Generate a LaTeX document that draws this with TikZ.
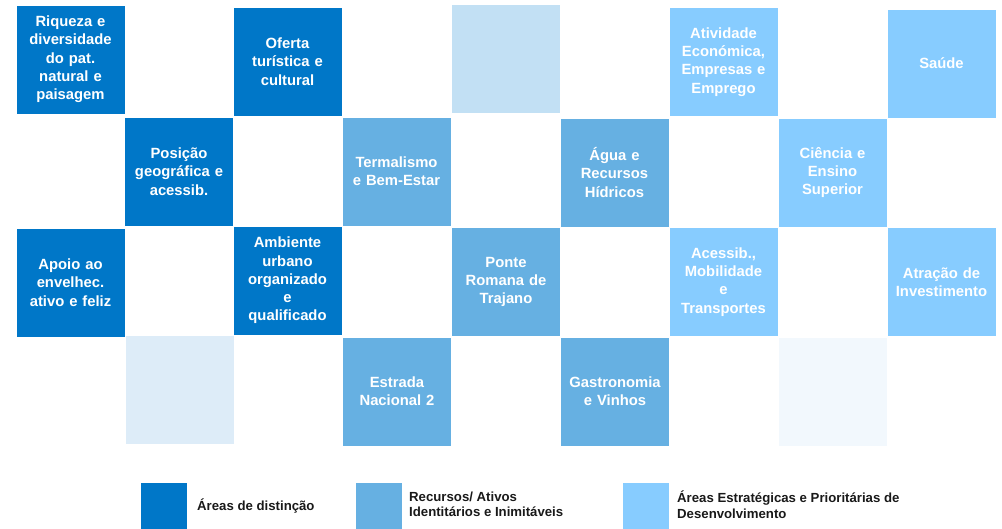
\documentclass[tikz,border=0pt]{standalone}
\usepackage{fontspec}
\setmainfont{Liberation Sans}
\definecolor{dk}{RGB}{0,119,200}
\definecolor{md}{RGB}{102,176,226}
\definecolor{lt}{RGB}{135,204,255}
\definecolor{pa}{RGB}{194,224,244}
\definecolor{pb}{RGB}{221,236,248}
\definecolor{pc}{RGB}{242,248,253}
\definecolor{lg}{RGB}{25,25,25}
\tikzset{
  cell/.style={draw=white, line width=0.6pt, minimum width=109pt, minimum height=109pt,
    inner sep=0pt, text width=106pt, align=center, text=white,
    font=\fontsize{14.8}{18.3}\selectfont\bfseries},
  cdk/.style={cell, fill=dk},
  cmd/.style={cell, fill=md},
  clt/.style={cell, fill=lt},
  legsq/.style={draw=none, minimum width=46pt, minimum height=46pt, inner sep=0pt},
  legtx/.style={anchor=west, inner sep=0pt, align=left, text=lg,
    font=\fontsize{13.2}{15.5}\selectfont\bfseries}
}
\begin{document}
\begin{tikzpicture}[x=1pt,y=-1pt]
\useasboundingbox (0,0) rectangle (1002,528);
% row 1
\node[cdk] (riq) at (70.5,59.5) {Riqueza e\\diversidade\\do pat.\\natural e\\paisagem};
\node[cdk] (ofe) at (287.5,61.5) {Oferta\\turística e\\cultural};
\node[cell, fill=pa] (p1) at (505.5,58.5) {};
\node[clt] (ati) at (723.5,62) {Atividade\\Económica,\\Empresas e\\Emprego};
\node[clt] (sau) at (941.5,63.5) {Saúde};
% row 2
\node[cdk] (pos) at (179,171.5) {Posição\\geográfica e\\acessib.};
\node[cmd] (ter) at (396.5,171.5) {Termalismo\\e Bem-Estar};
\node[cmd] (agu) at (614.5,172.5) {Água e\\Recursos\\Hídricos};
\node[clt] (cie) at (832.5,172.5) {Ciência e\\Ensino\\Superior};
% row 3
\node[cdk] (apo) at (70.5,282.5) {Apoio ao\\envelhec.\\ativo e feliz};
\node[cdk] (amb) at (287.5,280.5) {Ambiente\\urbano\\organizado\\e\\qualificado};
\node[cmd] (pon) at (506,282) {Ponte\\Romana de\\Trajano};
\node[clt] (ace) at (723.5,282) {Acessib.,\\Mobilidade\\e\\Transportes};
\node[clt] (atr) at (941.5,282) {Atração de\\Investimento};
% row 4
\node[cell, fill=pb] (p2) at (179.5,389.5) {};
\node[cmd] (est) at (397,391.5) {Estrada\\Nacional 2};
\node[cmd] (gas) at (615,391.5) {Gastronomia\\e Vinhos};
\node[cell, fill=pc] (p3) at (832.5,391.5) {};
% legend
\node[legsq, fill=dk] (l1) at (164,506) {};
\node[legtx] (t1) at (197,506) {Áreas de distinção};
\node[legsq, fill=md] (l2) at (378.5,506) {};
\node[legtx] (t2) at (409,504.5) {Recursos/ Ativos\\Identitários e Inimitáveis};
\node[legsq, fill=lt] (l3) at (646,506) {};
\node[legtx] (t3) at (677,504.5) {Áreas Estratégicas e Prioritárias de\\Desenvolvimento};
\end{tikzpicture}
\end{document}
